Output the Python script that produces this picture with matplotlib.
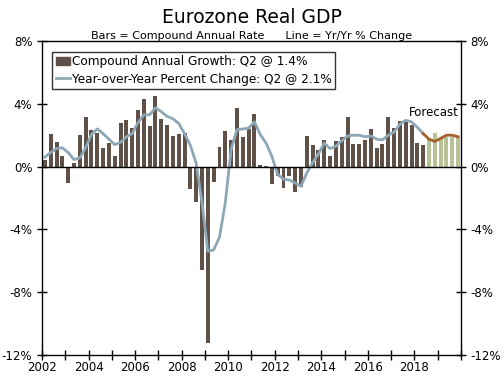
import numpy as np
import matplotlib
matplotlib.use("Agg")
import matplotlib.pyplot as plt
from matplotlib.patches import Patch
from matplotlib.lines import Line2D

# quarterly data, 2002Q1 .. 2019Q4
start_year = 2002
n_actual = 66  # through 2018Q2

bars = [0.43, 2.08, 1.59, 0.68,
        -1.04, 0.23, 2.04, 3.14,
        2.33, 2.12, 1.21, 1.53,
        0.68, 2.76, 2.97, 2.48,
        3.63, 4.33, 2.59, 4.52,
        3.01, 2.65, 1.96, 2.08,
        2.17, -1.42, -2.27, -6.56,
        -11.25, -1.0, 1.25, 2.25,
        1.7, 3.76, 1.87, 2.4,
        3.38, 0.1, 0.05, -1.12,
        -0.62, -1.34, -0.57, -1.63,
        -1.27, 1.97, 1.38, 1.04,
        1.72, 0.68, 1.66, 1.87,
        3.14, 1.44, 1.44, 1.7,
        2.42, 1.19, 1.44, 3.14,
        2.46, 2.93, 2.95, 2.65,
        1.51, 1.40, 1.8, 2.17,
        1.76, 1.87, 1.91, 1.87]

yoy = [0.6, 0.9, 1.15, 1.2,
       0.9, 0.45, 0.55, 1.2,
       2.05, 2.4, 2.1, 1.75,
       1.4, 1.55, 1.9, 2.1,
       2.8, 3.3, 3.3, 3.75,
       3.5, 3.2, 3.05, 2.75,
       2.1, 1.35, 0.2, -2.3,
       -5.4, -5.3, -4.5, -2.3,
       1.1, 2.35, 2.4, 2.45,
       2.85, 2.05, 1.5, 0.65,
       -0.5, -0.8, -0.85, -1.05,
       -1.25, -0.4, 0.25, 0.8,
       1.5, 1.15, 1.3, 1.65,
       1.95, 2.0, 2.0, 1.9,
       1.95, 1.75, 1.7, 2.0,
       2.2, 2.7, 2.95, 2.85,
       2.5, 2.1, 1.75, 1.6,
       1.8, 2.0, 2.0, 1.9]

year_labels = ["2002", "2004", "2006", "2008", "2010", "2012", "2014", "2016", "2018"]

bar_color = "#5f5148"
fcst_bar_color = "#b9c197"
line_color = "#8ea7b6"
fcst_line_color = "#a3602a"

x = start_year + (np.arange(len(bars)) + 0.5) / 4

fig = plt.figure(figsize=(5.04, 3.78), dpi=100)
ax = fig.add_axes([0.0833, 0.0608, 0.8314, 0.8307])

ax.bar(x[:n_actual], bars[:n_actual], width=0.17, color=bar_color, zorder=2)
ax.bar(x[n_actual:], bars[n_actual:], width=0.17, color=fcst_bar_color, zorder=2)
ax.plot(x[:n_actual], yoy[:n_actual], color=line_color, lw=2, zorder=3)
ax.plot(x[n_actual - 1:], yoy[n_actual - 1:], color=fcst_line_color, lw=2, zorder=3)
ax.axhline(0, color="black", lw=1, zorder=4)

ax.set_xlim(2002, 2020)
ax.set_ylim(-12, 8)
ax.set_xticks(np.arange(2002, 2021))
ax.set_xticklabels([str(y) if str(y) in year_labels else "" for y in range(2002, 2021)])
yt = [-12, -8, -4, 0, 4, 8]
ax.set_yticks(yt)
ax.set_yticklabels(["%d%%" % v for v in yt])
ax.tick_params(axis="both", direction="inout", length=7, width=1, labelsize=8.5, colors="black")
ax.tick_params(axis="y", right=True, labelright=True)
ax.tick_params(axis="x", pad=1)
for s in ax.spines.values():
    s.set_linewidth(1)

ax.text(2018.85, 3.45, "Forecast", fontsize=8.5, ha="center", va="center")

handles = [Patch(color=bar_color), Line2D([0], [0], color=line_color, lw=2)]
leg = ax.legend(handles, ["Compound Annual Growth: Q2 @ 1.4%",
                          "Year-over-Year Percent Change: Q2 @ 2.1%"],
                loc="upper left", bbox_to_anchor=(0.01, 0.985), fontsize=8.7,
                frameon=True, fancybox=False, edgecolor="black",
                handlelength=1.2, handletextpad=0.1, borderpad=0.3,
                labelspacing=0.35)
leg.get_frame().set_linewidth(1)

fig.text(0.5, 0.955, "Eurozone Real GDP", fontsize=13.5, ha="center", va="center")
fig.text(0.5, 0.905, "Bars = Compound Annual Rate      Line = Yr/Yr % Change",
         fontsize=8, ha="center", va="center")

fig.savefig("out.png", dpi=100)
